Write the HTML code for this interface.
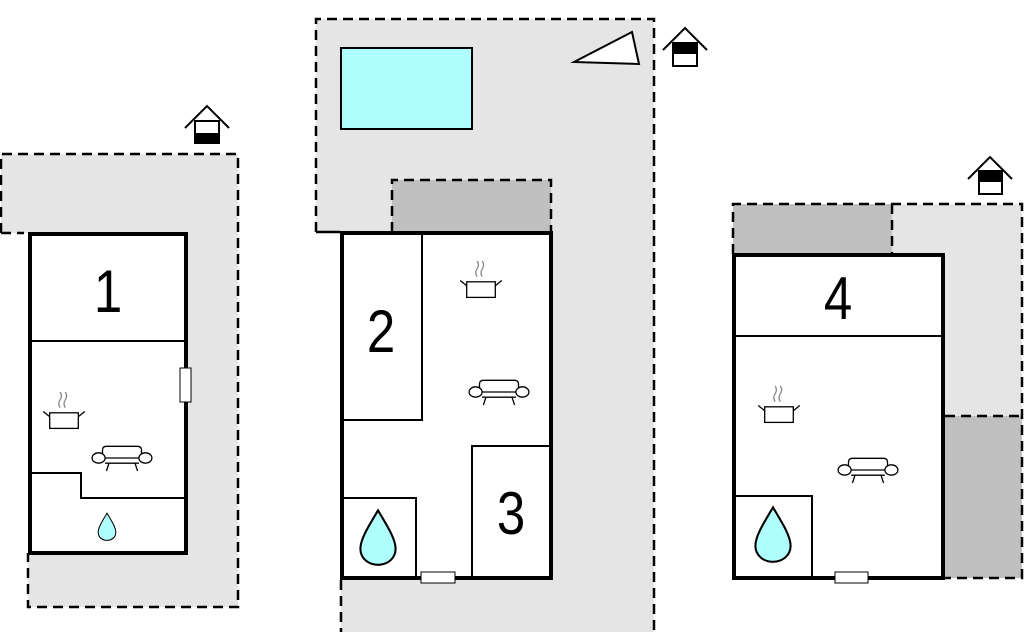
<!DOCTYPE html>
<html><head><meta charset="utf-8"><style>html,body{margin:0;padding:0;background:#fff}svg{display:block}</style></head><body>
<svg width="1024" height="634" viewBox="0 0 1024 634" xmlns="http://www.w3.org/2000/svg">
<defs>
<g id="pot" fill="none" stroke="#000" stroke-width="1">
<rect x="-11" y="-4" width="22" height="12" fill="#fff"/>
<path d="M-11,-1 L-16,-5 M11,-1 L16,-5"/>
<path d="M-3,-8 q-2,-3 0,-6 q2,-3 0,-6 M1,-8 q-2,-3 0,-6 q2,-3 0,-6" stroke="#888"/>
</g>
<g id="sofa" fill="#fff" stroke="#000" stroke-width="1">
<path d="M-15,2 L-15,-6 Q-15,-9 -12,-9 L12,-9 Q15,-9 15,-6 L15,2"/>
<ellipse cx="-18" cy="0" rx="5" ry="4"/><ellipse cx="18" cy="0" rx="5" ry="4"/>
<path d="M-13,0 L13,0 M-13,4 L13,4 M-10,4 L-12,10 M10,4 L12,10" fill="none"/>
</g>
<g id="drop"><path d="M0,-16 C6,-6 11,2 11,8 C11,14 6,18 0,18 C-6,18 -11,14 -11,8 C-11,2 -6,-6 0,-16 Z" fill="#b0ffff" stroke="#000" stroke-width="1.3"/></g>
<g id="house" fill="none" stroke="#000" stroke-width="2">
<path d="M-22,0 L0,-22 L22,0"/>
</g>
</defs>
<g fill="#e5e5e5"><polygon points="1,154 238,154 238,607 28,607 28,233 1,233"/>
<polygon points="316,19 654,19 654,632 341,632 341,232 316,232"/>
<polygon points="892,204 1022,204 1022,416 945,416 945,254 892,254"/></g>
<g fill="#c0c0c0"><rect x="392" y="180" width="159" height="52"/><rect x="733" y="204" width="159" height="50"/><rect x="945" y="416" width="77" height="162"/></g>
<g fill="none" stroke="#000" stroke-width="2.5" stroke-dasharray="10,6">
<path d="M1,233 V154 H238 V607 H28 V553"/><path d="M1,233 H24"/>
<path d="M316,232 V19 H654 V632 M341,580 V632"/>
<path d="M392,232 V180 H551 V232"/>
<path d="M733,254 V204 H1022 V578 H945 M892,204 V254 M945,416 H1022"/>
</g>
<path d="M316,232 H340" stroke="#000" stroke-width="2.5"/>
<g fill="#fff" stroke="#000" stroke-width="4"><rect x="30" y="234" width="156" height="319"/><rect x="342" y="233" width="209" height="345"/><rect x="734" y="255" width="209" height="323"/></g>
<g fill="none" stroke="#000" stroke-width="2">
<path d="M30,341 H186"/><path d="M30,473 H81 V498 H186"/>
<path d="M422,233 V420 H343"/><path d="M472,578 V446 H549"/><path d="M343,498 H416 V578"/>
<path d="M734,336 H943"/><path d="M735,496 H812 V578"/>
</g>
<g fill="#fff" stroke="#000" stroke-width="1"><rect x="180" y="368" width="11" height="34"/><rect x="421" y="572" width="34" height="11"/><rect x="835" y="572" width="33" height="11"/></g>
<g font-family="Liberation Sans, sans-serif" font-size="60" text-anchor="middle">
<text transform="translate(108,312) scale(0.85,1)">1</text>
<text transform="translate(381,352) scale(0.85,1)">2</text>
<text transform="translate(511,534) scale(0.85,1)">3</text>
<text transform="translate(838,319) scale(0.85,1)">4</text></g>
<g transform="translate(64,418) scale(1.3)"><use href="#pot"/></g>
<g transform="translate(481,287) scale(1.3)"><use href="#pot"/></g>
<g transform="translate(779,412) scale(1.3)"><use href="#pot"/></g>
<g transform="translate(122,458) scale(1.3)"><use href="#sofa"/></g>
<g transform="translate(499,392) scale(1.3)"><use href="#sofa"/></g>
<g transform="translate(868,470) scale(1.3)"><use href="#sofa"/></g>
<g transform="translate(107,526) scale(0.8)"><use href="#drop"/></g>
<g transform="translate(378,536) scale(1.6)"><use href="#drop"/></g>
<g transform="translate(773,533) scale(1.6)"><use href="#drop"/></g>
<rect x="341" y="48" width="131" height="81" fill="#b0ffff" stroke="#000" stroke-width="2"/>
<polygon points="574,62 632,32 639,64" fill="#fff" stroke="#000" stroke-width="2"/>
<use href="#house" x="207" y="128"/><rect x="195" y="121" width="24" height="22" fill="#fff" stroke="#000" stroke-width="2"/><rect x="195" y="133" width="24" height="10" fill="#000"/>
<use href="#house" x="685" y="50"/><rect x="673" y="43" width="24" height="23" fill="#fff" stroke="#000" stroke-width="2"/><rect x="673" y="43" width="24" height="11" fill="#000"/>
<use href="#house" x="990" y="179"/><rect x="979" y="171" width="23" height="23" fill="#fff" stroke="#000" stroke-width="2"/><rect x="979" y="171" width="23" height="11" fill="#000"/>
</svg>
</body></html>
